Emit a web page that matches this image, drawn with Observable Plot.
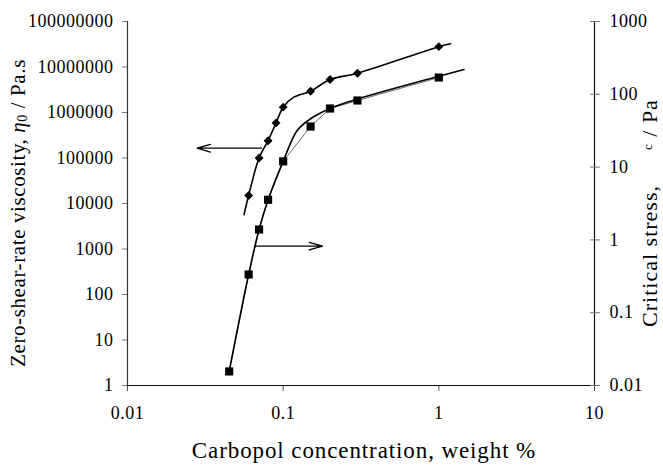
<!DOCTYPE html>
<html><head><meta charset="utf-8">
<script src="https://cdn.jsdelivr.net/npm/d3@7"></script>
<script src="https://cdn.jsdelivr.net/npm/@observablehq/plot@0.6"></script>
<style>
body{margin:0;background:#fff;}
#wrap{position:relative;width:663px;height:467px;}
#wrap svg{position:absolute;left:0;top:0;}
#wrap svg text{font-family:"Liberation Serif",serif !important;}
</style></head><body><div id="wrap"></div>
<script>
// ticks
const xTicks = [0.01, 0.1, 1, 10];
const leftTicks = [1, 10, 100, 1000, 1e4, 1e5, 1e6, 1e7, 1e8];
const rightTicks = [0.01, 0.1, 1, 10, 100, 1000];
// zero-shear-rate viscosity (left axis), diamonds
const viscX = [0.06, 0.07, 0.08, 0.09, 0.1, 0.15, 0.2, 0.3, 1];
const viscY = [15000, 1e5, 2.4e5, 5.9e5, 1.31e6, 2.94e6, 5.3e6, 7.3e6, 2.8e7];
// fitted viscosity curve
const fitViscX = [0.056, 0.06, 0.07, 0.08, 0.09, 0.1, 0.117, 0.15, 0.2, 0.3, 1, 1.19];
const fitViscY = [5650, 15000, 1e5, 2.4e5, 5.9e5, 1.31e6, 2.17e6, 2.94e6, 5.3e6, 7.3e6, 2.8e7, 3.24e7];
// critical stress (right axis), squares
const stressX = [0.045, 0.06, 0.07, 0.08, 0.1, 0.15, 0.2, 0.3, 1];
const stressY = [0.0156, 0.335, 1.39, 3.56, 12, 36.1, 63.8, 82.2, 170];
// fitted stress curve
const fitStressX = [0.045, 0.06, 0.07, 0.08, 0.1, 0.123, 0.15, 0.2, 0.3, 1, 1.45];
const fitStressY = [0.0156, 0.335, 1.39, 3.56, 12, 31.8, 46.1, 63.8, 86, 177, 219];
// arrows
const arrowLeftX = [0.0727, 0.028], arrowLeftY = [1.64e5];
const arrowRightX = [0.0666, 0.179], arrowRightY = [0.82];

const zip = (xs, ys) => xs.map((x, i) => ({x, y: ys[i]}));
const FONT = "Liberation Serif";
const common = {
  width: 663, height: 467,
  marginLeft: 127, marginRight: 69, marginTop: 21, marginBottom: 82,
  x: {type: "log", domain: [0.01, 10]},
  style: {fontFamily: FONT, fontSize: "18px", background: "transparent", color: "#000", overflow: "visible", letterSpacing: "0.5px"}
};

const p1 = Plot.plot({
  ...common,
  y: {type: "log", domain: [1, 1e8]},
  marks: [
    Plot.axisX({ticks: xTicks, tickFormat: d => String(d), tickSize: 6, tickPadding: 15, label: null, stroke: "#555"}),
    Plot.axisY({ticks: leftTicks, tickFormat: d => String(d), tickSize: 5, tickPadding: 9, label: null, stroke: "#777"}),
    Plot.ruleX([0.01], {stroke: "#333", strokeWidth: 1.2}),
    Plot.ruleY([1], {stroke: "#111", strokeWidth: 1.2}),
    Plot.ruleX([10], {stroke: "#111", strokeWidth: 1.2}),
    Plot.line(zip(fitViscX, fitViscY), {x: "x", y: "y", curve: "catmull-rom", stroke: "#000", strokeWidth: 1.6}),
    Plot.dot(zip(viscX, viscY), {x: "x", y: "y", symbol: "diamond2", r: 4, fill: "#000", stroke: null}),
    Plot.arrow([{x1: arrowLeftX[0], x2: arrowLeftX[1], y: arrowLeftY[0]}], {x1: "x1", x2: "x2", y1: "y", y2: "y", stroke: "#000", strokeWidth: 1.3, headLength: 16, headAngle: 32})
  ]
});

const p2 = Plot.plot({
  ...common,
  x: {...common.x, axis: null},
  y: {type: "log", domain: [0.01, 1000], axis: null},
  marks: [
    Plot.axisY({anchor: "right", ticks: rightTicks, tickFormat: d => String(d), tickSize: 5, tickPadding: 10, label: null, stroke: "#777"}),
    Plot.axisY({anchor: "right", ticks: rightTicks, tickFormat: () => "", tickSize: 5, dx: -5, label: null, stroke: "#777"}),
    Plot.line(zip(stressX, stressY), {x: "x", y: "y", stroke: "#444", strokeWidth: 0.8}),
    Plot.line(zip(fitStressX, fitStressY), {x: "x", y: "y", curve: "catmull-rom", stroke: "#000", strokeWidth: 1.6}),
    Plot.dot(zip(stressX, stressY), {x: "x", y: "y", symbol: "square", r: 4.6, fill: "#000", stroke: null}),
    Plot.arrow([{x1: arrowRightX[0], x2: arrowRightX[1], y: arrowRightY[0]}], {x1: "x1", x2: "x2", y1: "y", y2: "y", stroke: "#000", strokeWidth: 1.3, headLength: 16, headAngle: 32})
  ]
});

const wrap = document.getElementById("wrap");
wrap.append(p1, p2);

// axis titles
const svg = d3.select(p2);
svg.append("text")
  .attr("x", 364).attr("y", 458).attr("text-anchor", "middle")
  .attr("font-family", FONT).attr("font-size", 23).attr("letter-spacing", "0.9px").attr("fill", "#000")
  .text("Carbopol concentration, weight %");

const yl = svg.append("text")
  .attr("transform", "translate(25,213) rotate(-90)").attr("text-anchor", "middle")
  .attr("font-family", FONT).attr("font-size", 21).attr("letter-spacing", "0.6px").attr("fill", "#000");
yl.append("tspan").text("Zero-shear-rate viscosity, ");
yl.append("tspan").attr("font-style", "italic").text("η");
yl.append("tspan").attr("font-size", 14).attr("dy", 2).text("0");
yl.append("tspan").attr("dy", -2).text(" / Pa.s");

const yr = svg.append("text")
  .attr("transform", "translate(657,213) rotate(-90)").attr("text-anchor", "middle")
  .attr("font-family", FONT).attr("font-size", 22).attr("letter-spacing", "1px").attr("fill", "#000");
yr.append("tspan").text("Critical stress,\u2003\u2002");
yr.append("tspan").attr("font-size", 13).attr("dy", -5).text("c");
yr.append("tspan").attr("dy", 5).text(" / Pa");
</script></body></html>
